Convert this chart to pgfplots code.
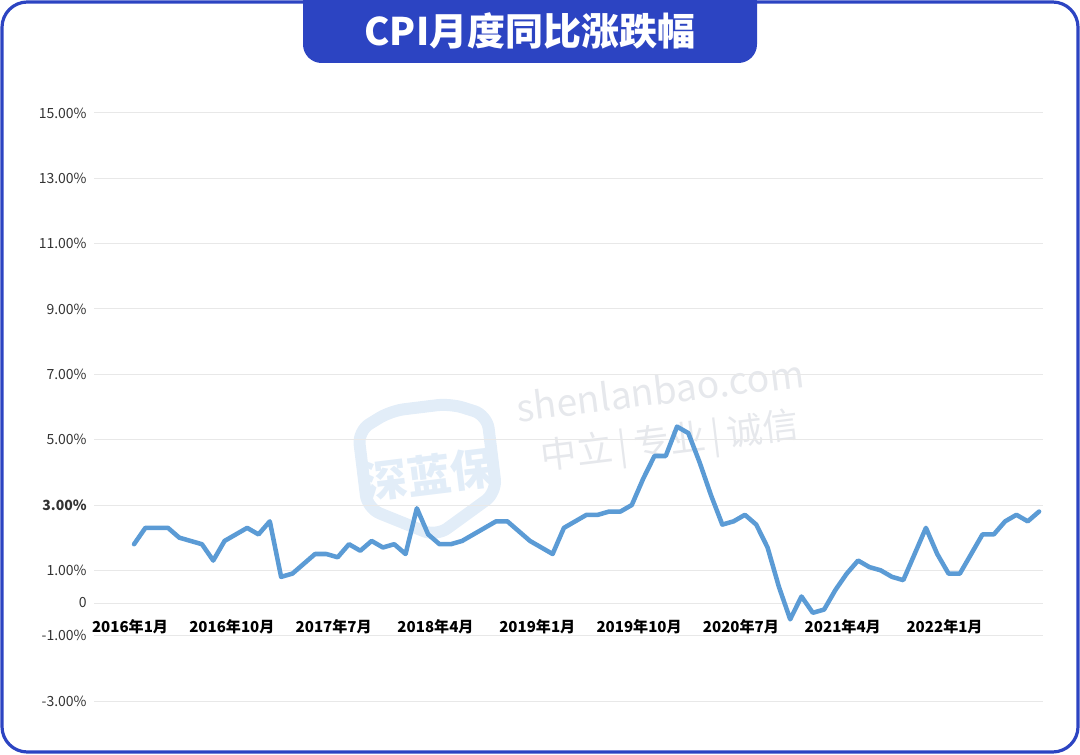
\documentclass[border=0pt]{standalone}
\usepackage{pgfplots}
\pgfplotsset{compat=1.18}
\usepackage{fontspec}
\setmainfont{Noto Sans CJK SC}
\definecolor{frameblue}{HTML}{2C44C2}
\definecolor{linecol}{HTML}{5B9BD5}
\definecolor{gridcol}{HTML}{E8E8E8}
\definecolor{labcol}{HTML}{333333}
\definecolor{wmgray}{HTML}{E6E8EC}
\definecolor{wmblue}{HTML}{E2EDF8}
\begin{document}
\begin{tikzpicture}[x=0.75pt,y=0.75pt]
\useasboundingbox (0,0) rectangle (1080,754);
% watermark
\begin{scope}[rotate around={7:(580,320)}, transform shape]
  \draw[wmblue, line width=9pt, rounded corners=10pt] (360,350) -- (395,366) -- (455,366) -- (490,350) -- (490,272) -- (425,236) -- (360,272) -- cycle;
  \node[text=wmblue, font=\fontsize{33}{33}\selectfont\bfseries] at (425,298) {深蓝保};
  \node[text=wmgray, font=\fontsize{28}{28}\selectfont, inner sep=0pt] at (665,354) {shenlanbao.com};
  \node[text=wmgray, font=\fontsize{27}{27}\selectfont, inner sep=0pt] at (668,300) {中立\,|\,专业\,|\,诚信};
\end{scope}
\begin{axis}[at={(70.5pt,39.75pt)}, anchor=south west, scale only axis,
  width=711.75pt, height=441pt,
  xmin=-3.54, xmax=80.35, ymin=-3, ymax=15,
  axis x line*=middle, axis y line*=left, axis line style={draw=none},
  major tick length=0pt, hide obscured x ticks=false, hide obscured y ticks=false,
  ytick={-3,-1,0,1,3,5,7,9,11,13,15},
  yticklabels={-3.00\%,-1.00\%,0,1.00\%,\textbf{3.00\%},5.00\%,7.00\%,9.00\%,11.00\%,13.00\%,15.00\%},
  xtick={0,9,18,27,36,45,54,63,72},
  xticklabels={2016年1月,2016年10月,2017年7月,2018年4月,2019年1月,2019年10月,2020年7月,2021年4月,2022年1月},
  ymajorgrids, grid style={gridcol, line width=0.75pt},
  yticklabel style={font=\fontsize{10.5}{12}\selectfont, text=labcol, xshift=-2pt},
  xticklabel style={font=\fontsize{11.3}{12}\selectfont\bfseries, text=black, yshift=-9pt, xshift=-3pt},
  clip=false]
\addplot[linecol, line width=3.4pt, line join=round, line cap=round] coordinates {
(0,1.8) (1,2.3) (2,2.3) (3,2.3) (4,2.0) (5,1.9) (6,1.8) (7,1.3) (8,1.9) (9,2.1) (10,2.3) (11,2.1)
(12,2.5) (13,0.8) (14,0.9) (15,1.2) (16,1.5) (17,1.5) (18,1.4) (19,1.8) (20,1.6) (21,1.9) (22,1.7) (23,1.8)
(24,1.5) (25,2.9) (26,2.1) (27,1.8) (28,1.8) (29,1.9) (30,2.1) (31,2.3) (32,2.5) (33,2.5) (34,2.2) (35,1.9)
(36,1.7) (37,1.5) (38,2.3) (39,2.5) (40,2.7) (41,2.7) (42,2.8) (43,2.8) (44,3.0) (45,3.8) (46,4.5) (47,4.5)
(48,5.4) (49,5.2) (50,4.3) (51,3.3) (52,2.4) (53,2.5) (54,2.7) (55,2.4) (56,1.7) (57,0.5) (58,-0.5) (59,0.2)
(60,-0.3) (61,-0.2) (62,0.4) (63,0.9) (64,1.3) (65,1.1) (66,1.0) (67,0.8) (68,0.7) (69,1.5) (70,2.3) (71,1.5)
(72,0.9) (73,0.9) (74,1.5) (75,2.1) (76,2.1) (77,2.5) (78,2.7) (79,2.5) (80,2.8)
};
\end{axis}
% frame and title tab
\draw[frameblue, line width=2.4pt, rounded corners=19pt] (2,2) rectangle (1078,752);
\fill[frameblue, rounded corners=14pt] (303,770) -- (303,691) -- (757,691) -- (757,770) [sharp corners] -- cycle;
\node[text=white, font=\fontsize{28.5}{28.5}\selectfont\bfseries] at (530,723) {CPI月度同比涨跌幅};
\end{tikzpicture}
\end{document}
